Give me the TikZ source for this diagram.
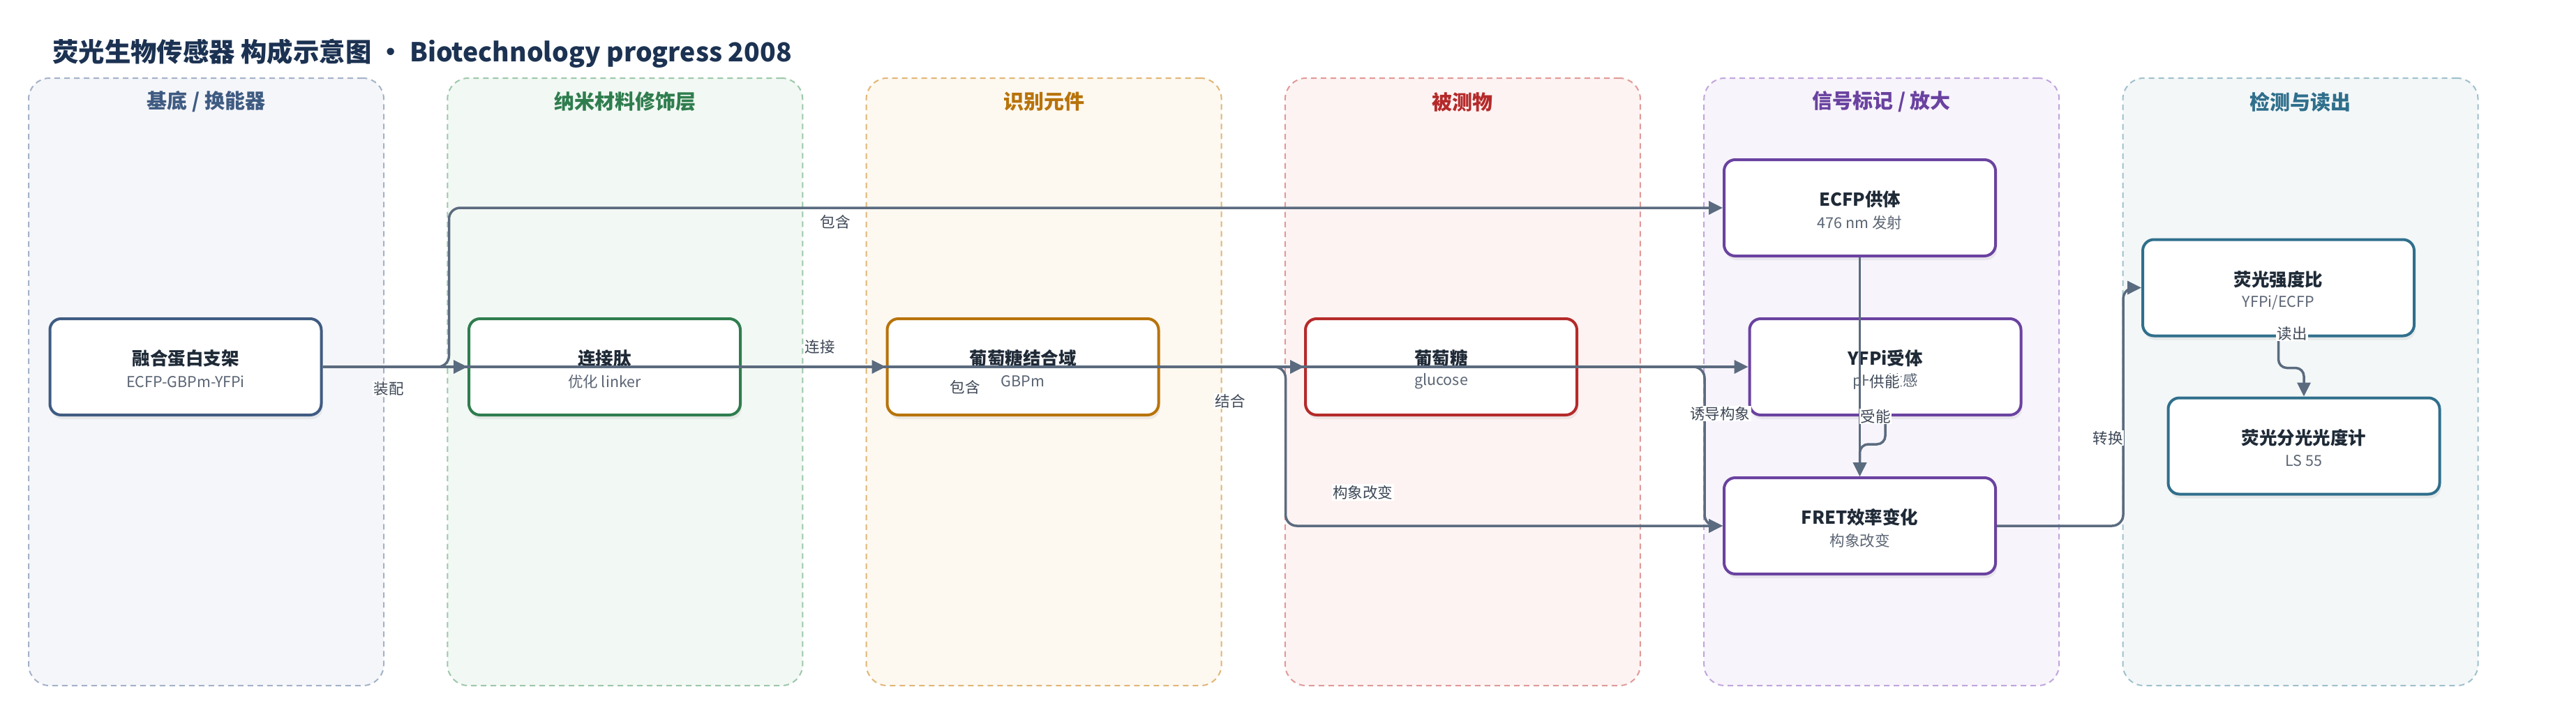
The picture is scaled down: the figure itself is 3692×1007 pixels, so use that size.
\documentclass[tikz,border=0pt]{standalone}
\usepackage{fontspec}
\setmainfont{Noto Sans CJK SC}
\usetikzlibrary{arrows.meta,shadows,calc}
\definecolor{ink}{HTML}{1F2A37}
\definecolor{titleink}{HTML}{1C3252}
\definecolor{subgray}{HTML}{5B6574}
\definecolor{lblc}{HTML}{3D4756}
\definecolor{edgec}{HTML}{5B6B7F}
\definecolor{cA}{HTML}{3F5B82}\definecolor{fA}{HTML}{F5F6FA}\definecolor{dA}{HTML}{A4B2C8}
\definecolor{cB}{HTML}{2F7D4E}\definecolor{fB}{HTML}{F2F8F4}\definecolor{dB}{HTML}{9CC8AA}
\definecolor{cC}{HTML}{B8730A}\definecolor{fC}{HTML}{FDF8F0}\definecolor{dC}{HTML}{E0B676}
\definecolor{cD}{HTML}{B52A2A}\definecolor{fD}{HTML}{FDF3F2}\definecolor{dD}{HTML}{E09A98}
\definecolor{cE}{HTML}{6A42A0}\definecolor{fE}{HTML}{F7F4FB}\definecolor{dE}{HTML}{C0A6DC}
\definecolor{cF}{HTML}{2F6F8C}\definecolor{fF}{HTML}{F3F7F8}\definecolor{dF}{HTML}{9FC0CC}
\begin{document}
\begin{tikzpicture}[x=1pt,y=-1pt,
  lane/.style={draw, rounded corners=30pt, line width=2pt, dash pattern=on 8pt off 6pt,
    minimum width=509pt, minimum height=871pt, inner sep=0pt},
  lanehead/.style={font=\fontsize{29}{34}\selectfont\bfseries},
  box/.style={draw, fill=white, rounded corners=16pt, line width=4pt,
    minimum width=389pt, minimum height=138pt, inner sep=0pt,
    drop shadow={opacity=0.12, shadow xshift=2pt, shadow yshift=-6pt}},
  ttl/.style={font=\fontsize{25.5}{30}\selectfont\bfseries, text=ink, inner sep=0pt},
  subt/.style={font=\fontsize{21.5}{26}\selectfont, text=subgray, inner sep=0pt},
  edge/.style={draw=edgec, line width=3.5pt, rounded corners=16pt,
    -{Triangle[length=20pt,width=19pt]}},
  lbl/.style={fill=white, inner sep=1.5pt, font=\fontsize{21.5}{26}\selectfont, text=lblc}
]
\path[use as bounding box] (0,0) rectangle (3692,1007);

% title
\node[anchor=west, inner sep=0pt, text=titleink, font=\fontsize{37.4}{44}\selectfont\bfseries]
  (title) at (75,77) {荧光生物传感器 构成示意图 · Biotechnology progress 2008};

% lanes
\node[lane, draw=dA, fill=fA] (lane1) at (295.5,547.5) {};
\node[lane, draw=dB, fill=fB] (lane2) at (895.8,547.5) {};
\node[lane, draw=dC, fill=fC] (lane3) at (1496.1,547.5) {};
\node[lane, draw=dD, fill=fD] (lane4) at (2096.4,547.5) {};
\node[lane, draw=dE, fill=fE] (lane5) at (2696.7,547.5) {};
\node[lane, draw=dF, fill=fF] (lane6) at (3297.0,547.5) {};
\node[lanehead, text=cA] (h1) at ($(lane1.north)+(0,35)$) {基底 / 换能器};
\node[lanehead, text=cB] (h2) at ($(lane2.north)+(0,35)$) {纳米材料修饰层};
\node[lanehead, text=cC] (h3) at ($(lane3.north)+(0,35)$) {识别元件};
\node[lanehead, text=cD] (h4) at ($(lane4.north)+(0,35)$) {被测物};
\node[lanehead, text=cE] (h5) at ($(lane5.north)+(0,35)$) {信号标记 / 放大};
\node[lanehead, text=cF] (h6) at ($(lane6.north)+(0,35)$) {检测与读出};

% boxes
\node[box, draw=cA] (n1) at (266,526) {};
\node[box, draw=cB] (n2) at (866.5,526) {};
\node[box, draw=cC] (n3) at (1466,526) {};
\node[box, draw=cD] (n4) at (2065.5,526) {};
\node[box, draw=cE] (n5) at (2665.5,298) {};
\node[box, draw=cE] (n6) at (2702,526) {};
\node[box, draw=cE] (n7) at (2665.5,754) {};
\node[box, draw=cF] (n8) at (3265.5,412.5) {};
\node[box, draw=cF] (n9) at (3302,639.5) {};

\node[ttl] (t1) at ($(n1.center)+(0,-12)$) {融合蛋白支架};
\node[subt] (s1) at ($(n1.center)+(0,21)$) {ECFP-GBPm-YFPi};
\node[ttl] (t2) at ($(n2.center)+(0,-12)$) {连接肽};
\node[subt] (s2) at ($(n2.center)+(0,21)$) {优化 linker};
\node[ttl] (t3) at ($(n3.center)+(0,-12)$) {葡萄糖结合域};
\node[subt] (s3) at ($(n3.center)+(0,21)$) {GBPm};
\node[ttl] (t4) at ($(n4.center)+(0,-12)$) {葡萄糖};
\node[subt] (s4) at ($(n4.center)+(0,21)$) {glucose};
\node[ttl] (t5) at ($(n5.center)+(0,-12)$) {ECFP供体};
\node[subt] (s5) at ($(n5.center)+(0,21)$) {476 nm 发射};
\node[ttl] (t6) at ($(n6.center)+(0,-12)$) {YFPi受体};
\node[subt] (s6) at ($(n6.center)+(0,21)$) {pH不敏感};
\node[ttl] (t7) at ($(n7.center)+(0,-12)$) {FRET效率变化};
\node[subt] (s7) at ($(n7.center)+(0,21)$) {构象改变};
\node[ttl] (t8) at ($(n8.center)+(0,-12)$) {荧光强度比};
\node[subt] (s8) at ($(n8.center)+(0,21)$) {YFPi/ECFP};
\node[ttl] (t9) at ($(n9.center)+(0,-12)$) {荧光分光光度计};
\node[subt] (s9) at ($(n9.center)+(0,21)$) {LS 55};

% connectors
\draw[edge] (n1.east) -- (n2.west);
\draw[edge] (n1.east) -- ++(181,0) |- (n5.west);
\draw[edge] (n1.east) -- (n6.west);
\draw[edge] (n2.east) -- (n3.west);
\draw[edge] (n3.east) -- (n4.west);
\draw[edge] (n3.east) -- ++(180,0) |- (n7.west);
\draw[edge] (n4.east) -- ++(181,0) |- (n7.west);
\draw[edge] (n5.south) -- (n7.north);
\draw[edge, rounded corners=12pt] (n6.south) -- ++(0,40) -| (n7.north);
\draw[edge] (n7.east) -- ++(181,0) |- (n8.west);
\draw[edge, rounded corners=12pt] (n8.south) -- ++(0,44) -| (n9.north);

% connector labels
\node[lbl] (l1) at (557,557) {装配};
\node[lbl] (l2) at (1197,318) {包含};
\node[lbl] (l3) at (1383,555) {包含};
\node[lbl] (l4) at (1175,497) {连接};
\node[lbl] (l5) at (1763,575) {结合};
\node[lbl] (l6) at (1953,706) {构象改变};
\node[lbl] (l7) at (2465,593) {诱导构象};
\node[lbl] (l8) at (2701,547) {供能};
\node[lbl] (l9) at (2688,597) {受能};
\node[lbl] (l10) at (3021,628) {转换};
\node[lbl] (l11) at (3285,478) {读出};
\end{tikzpicture}
\end{document}
